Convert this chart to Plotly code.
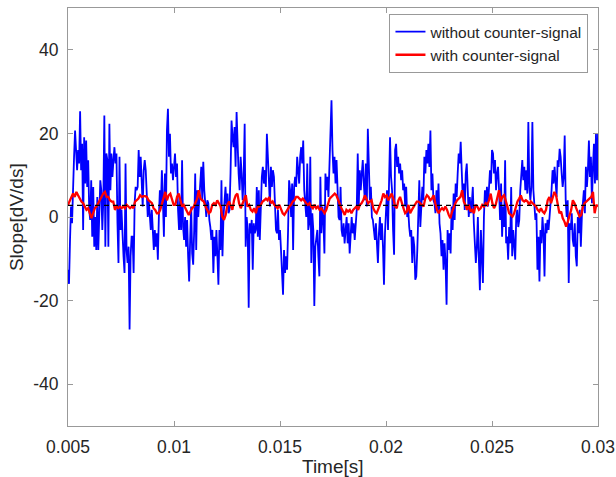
import numpy as np
import plotly.graph_objects as go

# Slope of the measured signal, without the counter-signal (blue trace)
slope_without = [
    -12.6, -16, -5.5, 2.5, -1.5, 9.6, 14.4, 20.7, 16.3, 11.2, 16, 12.8, 25.3, 11.2, 17.5, -3.1,
    19.1, 8, 18.3, 7.2, 13.6, 1.7, -0.7, 8.8, -4.7, 7.2, -7.1, 0, -7.9, 4.8, -7.9, 2.5, 8.8, 6.4,
    -3.1, 4, 24.3, -7.1, 15.2, 13.6, -7.1, 22.3, 6.4, 15.2, 9.6, 13.6, 16.7, 12.8, 15.2, -1.5, -11,
    14.4, -3.1, 1.7, -6.3, -9.4, -13.4, 12.8, -7.9, -11, -7.1, -26.9, -9.4, -4.7, -4.7, -13.4, 3.3,
    7.2, 6.4, 7.2, 16, 9.6, 14.4, 6.4, 2.5, 11.2,
    13.6, 11.2, 5.6, 0, 4, 0.9, -3.1, 1.7, -4.7, -7.9, -3.1, -7.1, -3.9, -10.2, 0, 6.4, 2.5, 11.2,
    4, -4.7, 10.4, 0, 20.7, 25.9, 14.4, 19.9, 10.4, 12.8, 8.8, 11.2, 15.2, 9.6, 12.8, 1.7, -3.1, 4,
    -3.1, 13.6, -2.4, -5.5, 0, -7.1, -0.7, -9.4, -15.4, -5.5, 2.5, -8.7, -11.4, -3.1, 10.4, -7.9,
    6.4, 0, 4, 9.6, 12, 4, 13.2, 6.4, 2.5, 0, 4, 3.3, -0.7, -2.4, -5.5, -3.1, -13.4, -4.7, -9.4,
    -3.1, -9.4, -16.2, -3.1, -7.9, 8.8, -9.4, 0, 3.3, 7.2, 2.5, 5.6, 0.9, 1.7, 10.4, 23.1,
    19.1, 16.7, 21.5, 12, 25.1, 15.2, 10.4, 6.4, 14.4, 10.4, 4, 9.6, 22.3, -7.1, 0, -3.1, -21.7,
    -1.5, -3.9, -0.7, -12.6, -1.5, -3.9, -3.1, 7.2, -4.7, 6.4, -5.5, 4, 9.6, 12, 8, 11.2, 7.2,
    19.9, 11.2, 8.8, 2.5, 12, 7.2, 11.2, 9.6, 0, -3.1, -3.9, 1.7, -5.5, -3.1, -7.9, -12.6, -18.6,
    -7.9, -13.4, -9.4, -12.6, -3.1, 8.8, 6.4, 0, 8, -7.9, 7.2, 9.6, 7.2, 14.4, 11.2, 8, 14.4, 16.7,
    12.8, 18.3, 6.4, 1.7, 0, 12.8, -3.1, -1.5, 14.4, -11, 0.9, -3.1, -21.3, -7.1, -4.7, -3.1, -9.4,
    -14.2, 9.6, -3.9, 2.5, -0.7,
    -8.7, 10.4, 6.4, 9.6, 4.8, 14.4, 20.7, 27.9, 16, 10.4, 14.4, 8, 13.6, 5.6, 0, -0.7, 7.2, -3.1,
    -4.7, -1.5, -6.3, -3.1, 0, -6.3, -1.5, -8.7, -3.1, 0, -3.9, -1.5, -5.5, 0, 1.7, 15.2, 2.5, 11.2,
    6.4, 10.4, 13.6, 8, 4, 12.8, 2.5, 21.1, 11.2, 4, 7.2, 0, -0.7, -3.1, -5.5, -1.5, -7.1, -11,
    -3.9, 0, -5.5, -1.5, -7.1, -16.2, -3.9, 0, 6.4, -3.1, 12, 19.1, 9.6, 6.4, -3.1, -9, 16, 17.5,
    12, 14.4, 10.4, 12.8, 8.8, 11.2, 6.4, 8, 2.5, 7.2, 0, 1.7, -2.4, -4.7, -3.1, -11, -4.7, -7.1, -15,
    -14.2, -7.9, -1.5, 8.8, -2.4, 2.5, 7.2, 4, 14.4, 10.4, 16, 12.8, 17.5, 12, 20.7, 6.4, 10.4, 4,
    3.3, 0.9, 6.4, 1.7, 8, -1.5, -3.9, -9.4, -5.5, -12.6, -6.3, -11, -21, -3.1, -7.9, -3.9, -8.7,
    2.5, -3.1, 5.6, -0.7, 8, 4.8, 10.4, 15.2, 12.8, 18, 11.2, 4.8, 8, 1.7, 10.4, 12.8, 6.4, 0, 4.8,
    0.9, 3.3, 7.2, -1.5, -5.5, -11, -7.1, 0, -10.2, -17.5, -3.1, -11, -15.8, 0, 6.4, 2.5, 7.2, 2.5,
    6.4, 11.2, 8, 16, 15.2, 10.4, 13.6, 6.4, 10.4, 12, 6.4, -0.7, 8, -4.7, 2.5, -2.4, 13.6, -6.3,
    -4.7, -10.2, -2.4, -6.3, 7.2, -9.4, -3.1, -7.1, -10.2, 0, 1.7, -2.4, -0.7, 6.4, 11.2, 13.6, 8.8,
    12, 6.4, 11.2, 5.6, 22.7, 7.2, 4, 7.2, 22.7, 6.4, 3.3, -0.7, 0.9, -12.6, -4.7, -15.4, -3.1,
    -6.3, 0, -3.9, -14.2, -1.5, -3.9, -0.7, -3.1, 0, 2.5, 6.4, 11.2, 8, 12, 8.8, 4.8, 13.6, 12,
    16.3, 14.4, 10.4, 7.2, 9.6, 19.5, 4, 0, 4, -15.8, -1.5, -3.1, 0.9, -5.5, -7.1, -1.5, -9.4,
    -11.8, 0, -3.9, 1.7, -7.1, 0, 3.3, 6.4, 0.9, 12, 7.2, 11.2, 18.3, 9.6, 14.4, 3.3, 12, 17.5, 8,
    19.9, 8.8, 19.9,
]

# Slope with the counter-signal applied (red trace)
slope_with = [
    2.9, 3.7, 4.8, 5.6, 4.8, 6, 5.2, 4.4, 3.7, 3.3, 2.5, 1.7, 2.1, 0.9, -0.3, 0.9, 2.1, 2.5, 3.3, 4,
    4.8, 5.6, 6, 4.8, 4.8, 4, 3.7, 3.7, 1.7, 2.5, 2.1, 2.5, 2.1, 2.5, 2.1, 2.9, 2.5, 2.1, 2.5, 2.1,
    3.7, 4, 4.4, 5.2, 4.8, 5,
    5, 4.8, 4, 3.7, 3.3, 2.1, 1.7, 0.9, 0.9, 1.7, 3.3, 4.4, 6, 4, 5.2, 5.6, 4.4, 2.9, 2.9, 4.8, 5.6,
    3.7, 2.5, 2.9, 2.1, 1.3, 0.5, 1.3, 2.1, 2.5, 3.3, 4.4, 6.4, 4.4, 4, 3.7, 2.5, 1.7, 0.9, 1.3,
    2.9, 3.3, 2.9, 4, 3.3, 2.5, 0.1, -0.7, 0.5, 2.9, 3.7, 2.5, 1.7, 4, 5.2,
    5.6, 3.3, 2.1, 3.3, 4.4, 5.2, 2.5, 2.9, 1.7, 1.3, 2.1, 0.9, 2.5, 2.5, 2.9, 3.7, 4, 4.4, 4, 4.8,
    3.3, 3.7, 2.9, 2.5, 2.1, 2.9, 1.7, 0.9, 0.5, 1.3, 2.1, 2.5, 2.9, 3.7, 4, 4.8, 4.8, 4.4, 4, 4.4,
    3.7, 3.3, 2.9, 3.3, 2.5, 2.1, 2.9, 2.1, 2.5, 1.7, 2.1, 1.3, 0.9, 1.7,
    3.3, 4.4, 4.8, 5.2, 5.6, 5.2, 4, 2.9, 2.1, 1.3, 0.5, 1.7, 1.3, 1.7, 0.9, 1.7, 2.1, 2.5, 1.7,
    2.9, 3.3, 4, 5.2, 4, 3.3, 3.7, 4, 2.1, 1.3, 0.9, 1.7, 2.9, 4, 5.6, 4.8, 5.2, 4, 4.8, 5.6, 4.4,
    2.5, 2.1, 4, 4.8, 3.7, 2.1, 0.9, 1.3, 2.9, 0.9, 1.7, 2.5, 3.3, 3.7,
    3.7, 3.3, 2.9, 2.5, 4.4, 5.2, 4.8, 4, 4.4, 5.2, 3.3, 1.7, 0.9, 1.7, 2.1, 1.7, 2.5, 1.7, 0.5,
    -0.3, 1.3, 2.5, 3.3, 4, 4.4, 4.8, 6.4, 3.7, 2.9, 1.7, 2.9, 1.3, 1.7, 0.9, 2.9, 2.5, 1.7, 2.1,
    2.9, 2.5, 3.3, 2.9, 4, 5.6, 3.3, 2.1, 2.9, 4.4, 6.4, 3.7, 4.8, 5.2, 4, 2.5,
    0.9, 0.5, 0.1, 0.9, 2.5, 3.7, 4.4, 5.2, 4, 3.7, 4, 3.7, 2.9, 3.7, 3.3, 2.9, 2.5, 1.7, 1.3, 2.1,
    1.3, 0.9, 1.7, 4, 4.8, 3.3, 4.8, 6, 5.2, 3.3, 0.9, 1.3, -0.3, -1.1, -2.3, -1.1, 0.1, 1.7, 4,
    3.3, 2.1, 1.3, 0.1, 0.5, 2.5, 3.3, 3.7, 4, 4.4, 4.8, 6, 0.9, 2.9, 2.5,
]

# Mean slope reference level (black dashed line)
reference_level = 2.8

t_start, t_end = 0.005, 0.03
time_without = np.linspace(t_start, t_end, len(slope_without))
time_with = np.linspace(t_start, t_end, len(slope_with))

x_ticks = [0.005, 0.01, 0.015, 0.02, 0.025, 0.03]
x_tick_labels = ["0.005", "0.01", "0.015", "0.02", "0.025", "0.03"]
y_ticks = [-40, -20, 0, 20, 40]
y_tick_labels = ["-40", "-20", "0", "20", "40"]

text_color = "#262626"
axis_color = "#999999"
font_family = "Liberation Sans, Arial, sans-serif"

fig = go.Figure()
fig.add_trace(go.Scatter(
    x=time_without, y=slope_without, mode="lines",
    name="without counter-signal",
    line=dict(color="#0000ff", width=1.8),
))
fig.add_trace(go.Scatter(
    x=time_with, y=slope_with, mode="lines",
    name="with counter-signal",
    line=dict(color="#ff0000", width=2.3),
))
fig.add_trace(go.Scatter(
    x=[t_start, t_end], y=[reference_level, reference_level], mode="lines",
    showlegend=False,
    line=dict(color="black", width=1.3, dash="5px,4px"),
))

fig.update_layout(
    width=616, height=477,
    margin=dict(l=68, r=18, t=8, b=51),
    paper_bgcolor="white", plot_bgcolor="white",
    font=dict(family=font_family, size=17, color=text_color),
    showlegend=True,
    legend=dict(
        x=0.982, y=0.9856, xanchor="right", yanchor="top",
        bgcolor="white", bordercolor=axis_color, borderwidth=1,
        font=dict(size=15.5, color=text_color),
        tracegroupgap=0, itemwidth=30,
    ),
    xaxis=dict(
        range=[t_start, t_end],
        tickvals=x_ticks, ticktext=x_tick_labels,
        ticks="inside", ticklen=5, tickcolor=axis_color,
        showline=True, linecolor=axis_color, linewidth=1, mirror="ticks",
        showgrid=False, zeroline=False, automargin=False,
        ticklabelstandoff=5,
        tickfont=dict(size=17.5),
    ),
    yaxis=dict(
        range=[-50, 50],
        tickvals=y_ticks, ticktext=y_tick_labels,
        ticks="inside", ticklen=5, tickcolor=axis_color,
        showline=True, linecolor=axis_color, linewidth=1, mirror="ticks",
        showgrid=False, zeroline=False, automargin=False,
        ticklabelstandoff=5,
        tickfont=dict(size=17.5),
    ),
    annotations=[
        dict(text="Time[s]", xref="paper", yref="paper", x=0.5, y=-0.098,
             xanchor="center", yanchor="middle", showarrow=False,
             font=dict(size=19, color=text_color)),
        dict(text="Slope[dV/ds]", xref="paper", yref="paper", x=-0.098, y=0.5,
             xanchor="center", yanchor="middle", textangle=-90, showarrow=False,
             font=dict(size=19, color=text_color)),
    ],
)

fig.write_html("out.html")
